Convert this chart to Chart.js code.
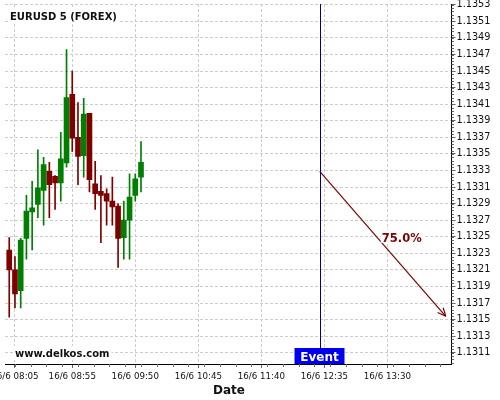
<!DOCTYPE html>
<html>
<head>
<meta charset="utf-8">
<script src="https://cdn.jsdelivr.net/npm/chart.js@4.4.0/dist/chart.umd.min.js"></script>
<style>
html, body { margin: 0; padding: 0; background: #fff; }
</style>
</head>
<body>
<canvas id="chart" width="500" height="400"></canvas>
<script>
// Velas de 5 minutos (16/6)
const times  = ['08:00','08:05','08:10','08:15','08:20','08:25','08:30','08:35','08:40','08:45','08:50','08:55',
                '09:00','09:05','09:10','09:15','09:20','09:25','09:30','09:35','09:40','09:45','09:50','09:55'];
const opens  = [1.13234,1.13210,1.13185,1.13248,1.13280,1.13289,1.13306,1.13329,1.13323,1.13315,1.13339,1.13422,
                1.13370,1.13348,1.13399,1.13314,1.13305,1.13302,1.13293,1.13287,1.13249,1.13270,1.13300,1.13322];
const highs  = [1.13249,1.13226,1.13248,1.13300,1.13317,1.13355,1.13346,1.13340,1.13324,1.13376,1.13476,1.13450,
                1.13412,1.13417,1.13399,1.13341,1.13324,1.13308,1.13322,1.13290,1.13293,1.13326,1.13326,1.13365];
const lows   = [1.13153,1.13164,1.13164,1.13223,1.13234,1.13273,1.13264,1.13273,1.13283,1.13293,1.13334,1.13353,
                1.13313,1.13322,1.13304,1.13283,1.13243,1.13264,1.13264,1.13213,1.13223,1.13223,1.13293,1.13304];
const closes = [1.13210,1.13181,1.13246,1.13281,1.13285,1.13309,1.13337,1.13313,1.13315,1.13344,1.13418,1.13369,
                1.13347,1.13398,1.13319,1.13302,1.13300,1.13293,1.13286,1.13248,1.13270,1.13298,1.13320,1.13340];

// Evento e projeção
const eventTime = '12:31';
const arrowTimes = ['12:31', '14:21'];
const arrowValues = [1.13329, 1.13154];
const arrowLabel = '75.0%';

// Rótulos dos eixos
const xTickLabels = ['16/6 08:05','16/6 08:55','16/6 09:50','16/6 10:45','16/6 11:40','16/6 12:35','16/6 13:30'];
const yTickLabels = ['1.1311','1.1313','1.1315','1.1317','1.1319','1.1321','1.1323','1.1325','1.1327','1.1329','1.1331',
                     '1.1333','1.1335','1.1337','1.1339','1.1341','1.1343','1.1345','1.1347','1.1349','1.1351','1.1353'];

const toMin = s => {
    const [h, m] = s.slice(-5).split(':').map(Number);
    return h * 60 + m - 480;
};
const fmtMin = v => {
    const t = Math.round(v) + 480;
    return '16/6 ' + String(Math.floor(t / 60)).padStart(2, '0') + ':' + String(t % 60).padStart(2, '0');
};

const GREEN = '#008000';
const RED = '#800000';
const candleColors = opens.map((o, i) => closes[i] >= o ? GREEN : RED);

Chart.defaults.font.family = '"DejaVu Sans", sans-serif';
Chart.defaults.color = '#111';

// Textos, linha do evento, seta e marcas menores
const extras = {
    id: 'extras',
    afterDatasetsDraw(chart) {
        const { ctx, chartArea: a, scales: { x } } = chart;
        const ex = Math.round(x.getPixelForValue(toMin(eventTime))) + 0.5;
        ctx.save();
        ctx.strokeStyle = '#00008b';
        ctx.lineWidth = 1;
        ctx.beginPath();
        ctx.moveTo(ex, a.top);
        ctx.lineTo(ex, a.bottom);
        ctx.stroke();

        const pts = chart.getDatasetMeta(2).data;
        const p0 = pts[0], p1 = pts[1];
        const ang = Math.atan2(p1.y - p0.y, p1.x - p0.x);
        ctx.strokeStyle = '#800000';
        ctx.lineWidth = 1.2;
        ctx.beginPath();
        [-1, 1].forEach(s => {
            ctx.moveTo(p1.x, p1.y);
            ctx.lineTo(p1.x - 9 * Math.cos(ang + s * 0.42), p1.y - 9 * Math.sin(ang + s * 0.42));
        });
        ctx.stroke();

        // rótulo da seta
        const mx = (p0.x + p1.x) / 2, my = (p0.y + p1.y) / 2;
        ctx.font = 'bold 11.5px "DejaVu Sans"';
        const w = ctx.measureText(arrowLabel).width;
        ctx.fillStyle = '#fff';
        ctx.fillRect(mx - 2, my - 14, w + 3, 13);
        ctx.fillStyle = RED;
        ctx.textBaseline = 'alphabetic';
        ctx.fillText(arrowLabel, mx - 1, my - 2);
        ctx.restore();
    },
    afterDraw(chart) {
        const { ctx, chartArea: a, scales: { x, y } } = chart;
        ctx.save();
        ctx.strokeStyle = '#666';
        ctx.lineWidth = 1;
        ctx.beginPath();
        // marcas menores no eixo y
        for (let v = 1.1311 - 0.0002; v <= 1.1354; v += 0.00004) {
            const py = Math.round(y.getPixelForValue(v)) + 0.5;
            if (py < a.top || py > a.bottom) continue;
            ctx.moveTo(a.right, py);
            ctx.lineTo(a.right + 2.5, py);
        }
        // marcas menores no eixo x
        for (let m = toMin('08:05') - 13.75; m <= x.max; m += 13.75) {
            const px = Math.round(x.getPixelForValue(m)) + 0.5;
            if (px < a.left) continue;
            ctx.moveTo(px, a.bottom);
            ctx.lineTo(px, a.bottom + 3);
        }
        ctx.stroke();

        // título
        ctx.font = 'bold 10px "DejaVu Sans"';
        ctx.textBaseline = 'alphabetic';
        let w = ctx.measureText('EURUSD 5 (FOREX)').width;
        ctx.fillStyle = '#fff';
        ctx.fillRect(8, 8, w + 4, 15);
        ctx.fillStyle = '#111';
        ctx.fillText('EURUSD 5 (FOREX)', 10, 19.5);

        // marca d'água
        w = ctx.measureText('www.delkos.com').width;
        ctx.fillStyle = '#fff';
        ctx.fillRect(13, 346, w + 4, 14);
        ctx.fillStyle = '#111';
        ctx.fillText('www.delkos.com', 15, 357);

        // título do eixo x
        ctx.font = 'bold 12px "DejaVu Sans"';
        ctx.fillText('Date', 213, 394);

        // caixa do evento
        const ex = Math.round(x.getPixelForValue(toMin(eventTime))) + 0.5;
        ctx.fillStyle = '#0000ee';
        ctx.fillRect(ex - 26, a.bottom - 16, 50, 16);
        ctx.fillStyle = '#fff';
        ctx.textAlign = 'center';
        ctx.fillText('Event', ex - 1, a.bottom - 3.5);
        ctx.restore();
    }
};

const ctx = document.getElementById('chart').getContext('2d');
new Chart(ctx, {
    type: 'bar',
    data: {
        datasets: [
            {
                label: 'body',
                data: times.map((t, i) => ({ x: toMin(t), y: [opens[i], closes[i]] })),
                backgroundColor: candleColors,
                barThickness: 5,
                grouped: false,
                order: 1
            },
            {
                label: 'wick',
                data: times.map((t, i) => ({ x: toMin(t), y: [lows[i], highs[i]] })),
                backgroundColor: candleColors,
                barThickness: 1,
                grouped: false,
                order: 2
            },
            {
                type: 'line',
                label: 'seta',
                data: arrowTimes.map((t, i) => ({ x: toMin(t), y: arrowValues[i] })),
                borderColor: '#800000',
                borderWidth: 1.2,
                pointRadius: 0,
                order: 0
            }
        ]
    },
    options: {
        responsive: false,
        animation: false,
        devicePixelRatio: 1,
        layout: { padding: { left: 5, top: 4, right: 0, bottom: 0 } },
        plugins: { legend: { display: false }, tooltip: { enabled: false } },
        scales: {
            x: {
                type: 'linear',
                position: 'bottom',
                offset: false,
                min: -3.7,
                max: 386,
                afterFit: s => { s.height = 36; s.paddingLeft = 0; s.paddingRight = 0; },
                afterBuildTicks: s => { s.ticks = xTickLabels.map(l => ({ value: toMin(l) })); },
                ticks: {
                    callback: v => fmtMin(v),
                    font: { size: 8.7 },
                    padding: 4,
                    maxRotation: 0,
                    autoSkip: false
                },
                grid: { color: '#cccccc', offset: false, tickLength: 4, tickColor: '#666' },
                border: { display: true, color: '#000', width: 1, dash: [3, 2] }
            },
            y: {
                type: 'linear',
                position: 'right',
                min: 1.130964,
                max: 1.13531,
                afterFit: s => { s.width = 48.5; s.paddingTop = 0; s.paddingBottom = 0; },
                afterBuildTicks: s => { s.ticks = yTickLabels.map(l => ({ value: parseFloat(l) })); },
                ticks: {
                    callback: v => v.toFixed(4),
                    font: { size: 9.7 },
                    padding: 1,
                    autoSkip: false
                },
                grid: { color: '#cccccc', tickLength: 4, tickColor: '#666' },
                border: { display: true, color: '#000', width: 1, dash: [3, 2] }
            }
        }
    },
    plugins: [extras]
});
</script>
</body>
</html>
